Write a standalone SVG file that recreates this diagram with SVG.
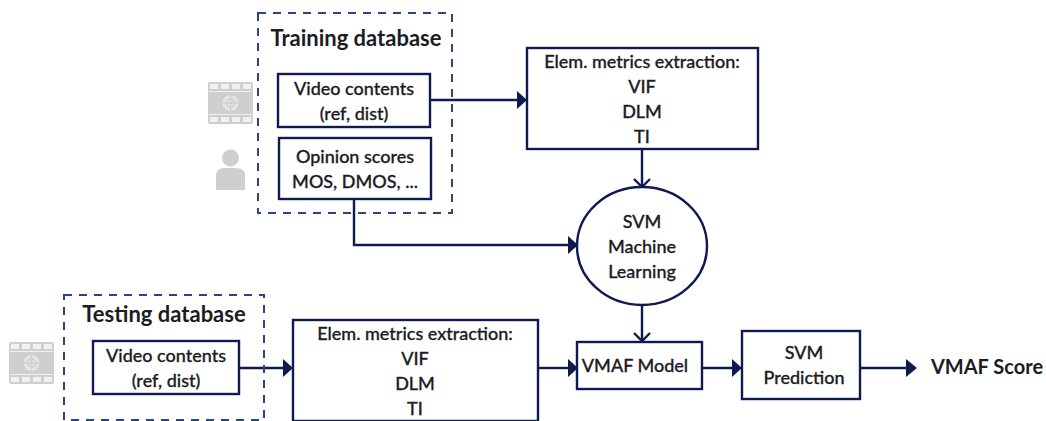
<svg xmlns="http://www.w3.org/2000/svg" width="1046" height="421" viewBox="0 0 1046 421">
<style>
text{font-family:Lato,"Open Sans",sans-serif;fill:#1c1c24;text-anchor:middle;font-weight:500;stroke:#1c1c24;stroke-width:.3}
.t{font-size:18px}
.h{font-size:22px;font-weight:700;stroke:none}
.s{font-size:20px;font-weight:700;stroke:none}
.b{fill:#fff;stroke:#0f1a50;stroke-width:2.400}
.d{fill:none;stroke:#2a4580;stroke-width:2;stroke-dasharray:8 7}
.c{fill:none;stroke:#0f1a50;stroke-width:2.400}
.a{fill:#0f1a50}
.g{fill:#cfcfcf}
.w{fill:#f0f0f0}
</style>
<defs>
<g id="film">
<rect x="0" y="0" width="45" height="42" rx="2" class="g"/>
<rect x="2" y="2" width="8" height="5" class="w"/><rect x="13" y="2" width="8" height="5" class="w"/><rect x="24" y="2" width="8" height="5" class="w"/><rect x="35" y="2" width="8" height="5" class="w"/>
<rect x="2" y="35" width="8" height="5" class="w"/><rect x="13" y="35" width="8" height="5" class="w"/><rect x="24" y="35" width="8" height="5" class="w"/><rect x="35" y="35" width="8" height="5" class="w"/>
<rect x="1" y="9" width="43" height="1" class="w"/><rect x="1" y="32" width="43" height="1" class="w"/>
<circle cx="22.500" cy="21" r="8" fill="#e4e4e4"/>
<path d="M22.500 13V29M14.500 21H30.500" stroke="#cfcfcf" stroke-width="1.500"/>
<circle cx="22.500" cy="21" r="4" fill="none" stroke="#cfcfcf" stroke-width="1.500"/>
</g>
</defs>
<g id="connectors">
<path class="c" d="M427 100H518"/><path class="a" d="M517 91L527 100L517 109Z"/>
<path class="c" d="M354 199V245H570"/><path class="a" d="M568 236L578 245L568 254Z"/>
<path class="c" d="M642 149V187"/><path class="c" d="M634 179L642 187L650 179"/>
<path class="c" d="M642 305V341"/><path class="c" d="M634 333L642 341L650 333"/>
<path class="c" d="M239 368H284"/><path class="a" d="M283 359L293 368L283 377Z"/>
<path class="c" d="M538 368H570"/><path class="a" d="M568 359L578 368L568 377Z"/>
<path class="c" d="M702 368H735"/><path class="a" d="M732 359L742 368L732 377Z"/>
<path class="c" d="M860 368H908"/><path class="a" d="M906 359L917 368L906 377Z"/>
</g>
<g id="icon-video-1"><use href="#film" x="208" y="82"/></g>
<g id="icon-person">
<circle cx="230.500" cy="158" r="8.500" class="g"/>
<path class="g" d="M216 190V176Q216 168 225 168H236Q245 168 245 176V190Z"/>
</g>
<g id="icon-video-2"><use href="#film" x="9" y="342"/></g>
<g id="training-db"><rect class="d" x="258" y="13" width="194" height="200"/><text class="h" x="356" y="46">Training database</text></g>
<g id="training-video"><rect class="b" x="278" y="74" width="152" height="53"/><text class="t" x="354" y="95">Video contents</text><text class="t" x="354" y="120">(ref, dist)</text></g>
<g id="opinion"><rect class="b" x="279" y="138" width="152" height="61"/><text class="t" x="355" y="163">Opinion scores</text><text class="t" x="355" y="188">MOS, DMOS, ...</text></g>
<g id="metrics-1"><rect class="b" x="527" y="48" width="231" height="101"/><text class="t" x="642" y="68">Elem. metrics extraction:</text><text class="t" x="642" y="93">VIF</text><text class="t" x="642" y="118">DLM</text><text class="t" x="642" y="143">TI</text></g>
<g id="svm-ml"><ellipse class="b" cx="642" cy="246" rx="65" ry="59"/><text class="t" x="642" y="228">SVM</text><text class="t" x="642" y="253">Machine</text><text class="t" x="642" y="278">Learning</text></g>
<g id="testing-db"><rect class="d" x="64" y="295" width="200" height="125"/><text class="h" x="164" y="322">Testing database</text></g>
<g id="testing-video"><rect class="b" x="93" y="341" width="146" height="53"/><text class="t" x="166" y="362">Video contents</text><text class="t" x="166" y="387">(ref, dist)</text></g>
<g id="metrics-2"><rect class="b" x="293" y="320" width="245" height="101"/><text class="t" x="415" y="340">Elem. metrics extraction:</text><text class="t" x="415" y="365">VIF</text><text class="t" x="415" y="390">DLM</text><text class="t" x="415" y="415">TI</text></g>
<g id="vmaf-model"><rect class="b" x="577" y="342" width="125" height="47"/><text class="t" x="635" y="372">VMAF Model</text></g>
<g id="svm-pred"><rect class="b" x="742" y="331" width="118" height="68"/><text class="t" x="804" y="359">SVM</text><text class="t" x="804" y="384">Prediction</text></g>
<g id="vmaf-score"><text class="s" x="987" y="374">VMAF Score</text></g>
</svg>
